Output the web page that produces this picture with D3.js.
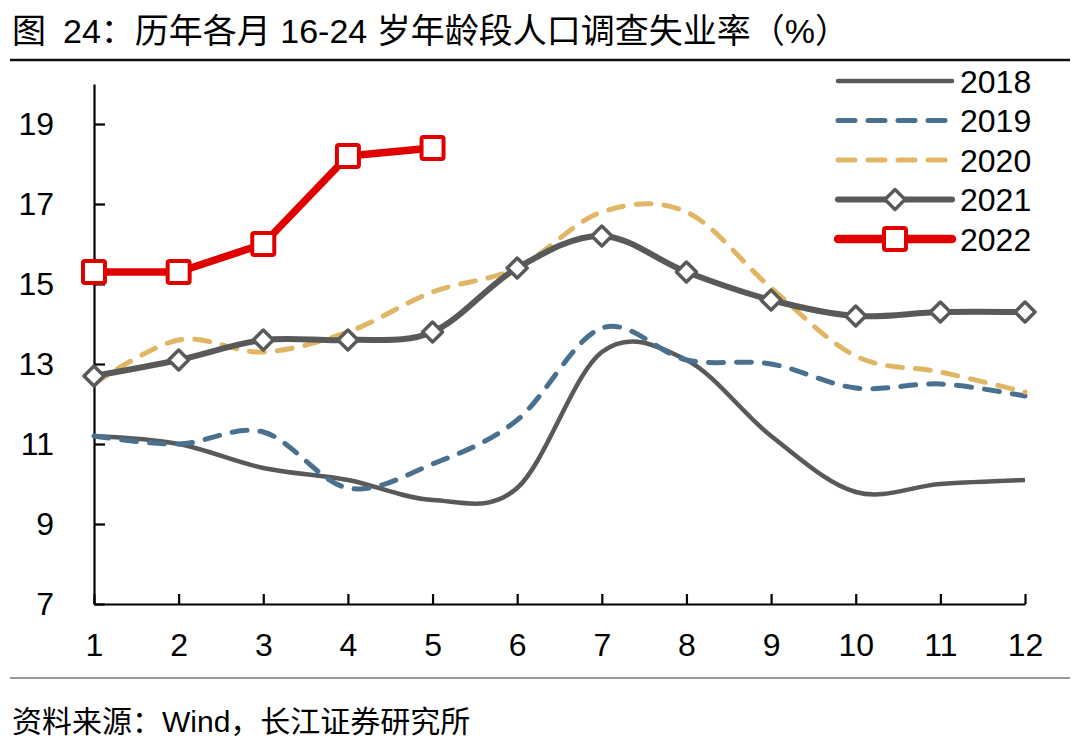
<!DOCTYPE html>
<html>
<head>
<meta charset="utf-8">
<script src="https://cdn.jsdelivr.net/npm/d3@7"></script>
<style>
  body { margin: 0; background: #fff; }
  text { font-family: "Liberation Sans", Arial, "Noto Sans CJK SC", sans-serif; fill: #000; }
</style>
</head>
<body>
<div id="vis"></div>
<script>
// months on the x axis
var months = [1, 2, 3, 4, 5, 6, 7, 8, 9, 10, 11, 12];
var yTicks = [7, 9, 11, 13, 15, 17, 19];
var years = ["2018", "2019", "2020", "2021", "2022"];

var v2018 = [11.2, 11.0, 10.4, 10.1, 9.6, 9.9, 13.3, 13.1, 11.2, 9.8, 10.0, 10.1];
var v2019 = [11.2, 11.0, 11.3, 9.9, 10.5, 11.6, 13.9, 13.1, 13.0, 12.4, 12.5, 12.2];
var v2020 = [12.5, 13.6, 13.3, 13.8, 14.8, 15.4, 16.8, 16.8, 14.9, 13.2, 12.8, 12.3];
var v2021 = [12.7, 13.1, 13.6, 13.6, 13.8, 15.4, 16.2, 15.3, 14.6, 14.2, 14.3, 14.3];
var v2022 = [15.3, 15.3, 16.0, 18.2, 18.4];

var width = 1080, height = 739;

var svg = d3.select("#vis").append("svg")
    .attr("width", width)
    .attr("height", height);

// title + rules
var title = svg.append("text")
    .attr("x", 12)
    .attr("y", 43)
    .attr("font-size", "34px");
title.append("tspan").text("图");
title.append("tspan").attr("dx", 17).text("24：历年各月 16-24 岁年龄段人口调查失业率（%）");

svg.append("line")
    .attr("x1", 10).attr("x2", 1070)
    .attr("y1", 60).attr("y2", 60)
    .attr("stroke", "#111").attr("stroke-width", 2.5);

svg.append("line")
    .attr("x1", 10).attr("x2", 1070)
    .attr("y1", 678).attr("y2", 678)
    .attr("stroke", "#777").attr("stroke-width", 1.5);

svg.append("text")
    .attr("x", 12)
    .attr("y", 732)
    .attr("font-size", "30px")
    .text("资料来源：Wind，长江证券研究所");

// scales
var x = d3.scaleLinear().domain([1, 12]).range([94, 1025]);
var y = d3.scaleLinear().domain([7, 20]).range([604, 84]);

// axes (ticks point inward)
var yAxis = svg.append("g")
    .attr("transform", "translate(" + x(1) + ",0)")
    .call(d3.axisLeft(y).tickValues(yTicks).tickSizeInner(-11).tickSizeOuter(0).tickPadding(40));

var xAxis = svg.append("g")
    .attr("transform", "translate(0," + y(7) + ")")
    .call(d3.axisBottom(x).tickValues(months).tickSizeInner(-10).tickSizeOuter(0).tickPadding(29));

[yAxis, xAxis].forEach(function(ax) {
  ax.selectAll("path, line").attr("stroke", "#000").attr("stroke-width", 2.2);
  ax.selectAll("text").attr("font-size", "32px").attr("fill", "#000")
    .style("font-family", "'Liberation Sans', Arial, sans-serif");
});

// series styles
var styles = {
  "2018": {data: v2018, color: "#595959", w: 4.5, dash: null, curve: d3.curveCardinal.tension(0)},
  "2019": {data: v2019, color: "#49718f", w: 5, dash: "15,13", curve: d3.curveCardinal.tension(0)},
  "2020": {data: v2020, color: "#e0b665", w: 5, dash: "15,13", curve: d3.curveCardinal.tension(0)},
  "2021": {data: v2021, color: "#595959", w: 6, dash: null, curve: d3.curveCardinal.tension(0), marker: "diamond"},
  "2022": {data: v2022, color: "#e00000", w: 7.5, dash: null, curve: d3.curveLinear, marker: "square"}
};

var plot = svg.append("g");

function drawMarker(g, kind, cx, cy, color) {
  if (kind === "diamond") {
    var r = 10;
    g.append("path")
      .attr("d", "M" + cx + "," + (cy - r) + "L" + (cx + r) + "," + cy + "L" + cx + "," + (cy + r) + "L" + (cx - r) + "," + cy + "Z")
      .attr("fill", "#fff")
      .attr("stroke", color)
      .attr("stroke-width", 3.5)
      .attr("stroke-linejoin", "round");
  } else if (kind === "square") {
    var s = 22;
    g.append("rect")
      .attr("x", cx - s / 2).attr("y", cy - s / 2)
      .attr("width", s).attr("height", s)
      .attr("rx", 2)
      .attr("fill", "#fff")
      .attr("stroke", color)
      .attr("stroke-width", 4);
  }
}

years.forEach(function(yr) {
  var st = styles[yr];
  var line = d3.line()
    .x(function(d, i) { return x(months[i]); })
    .y(function(d) { return y(d); })
    .curve(st.curve);

  plot.append("path")
    .datum(st.data)
    .attr("d", line)
    .attr("fill", "none")
    .attr("stroke", st.color)
    .attr("stroke-width", st.w)
    .attr("stroke-linecap", st.dash ? "round" : "butt")
    .attr("stroke-linejoin", "round")
    .attr("stroke-dasharray", st.dash);

  if (st.marker) {
    st.data.forEach(function(d, i) {
      drawMarker(plot, st.marker, x(months[i]), y(d), st.color);
    });
  }
});

// legend
var legend = svg.append("g");
var legendX1 = 838, legendX2 = 952, legendY = 81, legendStep = 39.5;

years.forEach(function(yr, i) {
  var st = styles[yr];
  var ly = legendY + i * legendStep;
  legend.append("line")
    .attr("x1", legendX1).attr("x2", legendX2)
    .attr("y1", ly).attr("y2", ly)
    .attr("stroke", st.color)
    .attr("stroke-width", st.w + (st.marker === "square" ? 1 : 0))
    .attr("stroke-linecap", "round")
    .attr("stroke-dasharray", st.dash ? "17,13" : null);
  if (st.marker) drawMarker(legend, st.marker, (legendX1 + legendX2) / 2, ly, st.color);
  legend.append("text")
    .attr("x", 960)
    .attr("y", ly + 11.5)
    .attr("font-size", "32px")
    .text(yr);
});
</script>
</body>
</html>
